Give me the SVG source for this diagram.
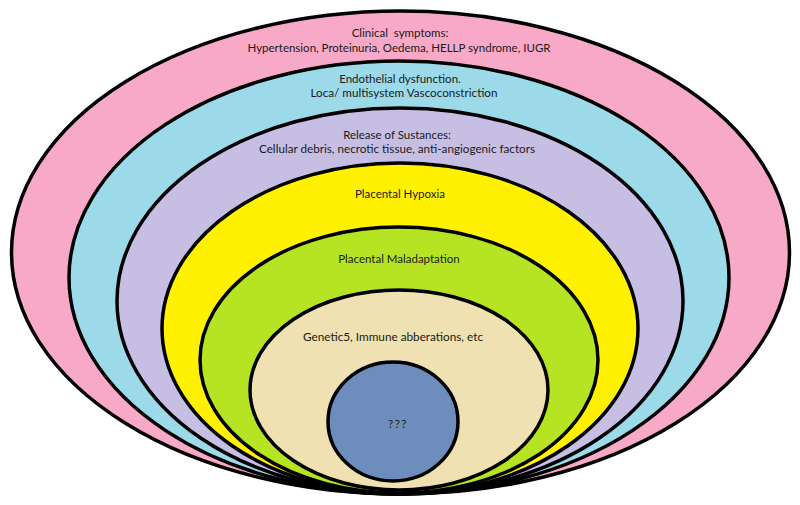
<svg xmlns="http://www.w3.org/2000/svg" width="800" height="505" viewBox="0 0 800 505">
<style>
.ring{stroke:#000;stroke-width:3.5}
.t{font-family:Lato,"Open Sans","Liberation Sans",sans-serif;font-size:11.5px;fill:#1a1a1a;text-anchor:middle}
</style>
<rect width="800" height="505" fill="#fff"/>
<g id="clinical">
<ellipse class="ring" cx="400.5" cy="252.5" rx="389" ry="241.5" fill="#F8A9C7"/>
<text class="t" x="400" y="37" xml:space="preserve">Clinical  symptoms:</text>
<text class="t" x="399" y="52" textLength="303" lengthAdjust="spacingAndGlyphs">Hypertension, Proteinuria, Oedema, HELLP syndrome, IUGR</text>
</g>
<g id="endothelial">
<ellipse class="ring" cx="399" cy="277.5" rx="330" ry="216.5" fill="#9CD9E9"/>
<text class="t" x="400" y="83">Endothelial dysfunction.</text>
<text class="t" x="404" y="97" textLength="187" lengthAdjust="spacingAndGlyphs">Loca/ multisystem Vascoconstriction</text>
</g>
<g id="release">
<ellipse class="ring" cx="400" cy="301" rx="283" ry="193" fill="#C7BEE4"/>
<text class="t" x="397" y="139">Release of Sustances:</text>
<text class="t" x="397" y="153" textLength="276" lengthAdjust="spacingAndGlyphs">Cellular debris, necrotic tissue, anti-angiogenic factors</text>
</g>
<g id="hypoxia">
<ellipse class="ring" cx="400" cy="328.5" rx="238" ry="165.5" fill="#FFF100"/>
<text class="t" x="400" y="198">Placental Hypoxia</text>
</g>
<g id="maladaptation">
<ellipse class="ring" cx="399" cy="360" rx="199" ry="133" fill="#B6E322"/>
<text class="t" x="399" y="263">Placental Maladaptation</text>
</g>
<g id="genetic">
<ellipse class="ring" cx="399" cy="390" rx="149" ry="100" fill="#EFE1B1"/>
<text class="t" x="393" y="341" textLength="180" lengthAdjust="spacingAndGlyphs">Genetic5, Immune abberations, etc</text>
</g>
<g id="unknown">
<ellipse class="ring" cx="393" cy="421.5" rx="65" ry="59.5" fill="#6D8EBD"/>
<text class="t" x="398" y="428" letter-spacing="1.5">???</text>
</g>
</svg>
